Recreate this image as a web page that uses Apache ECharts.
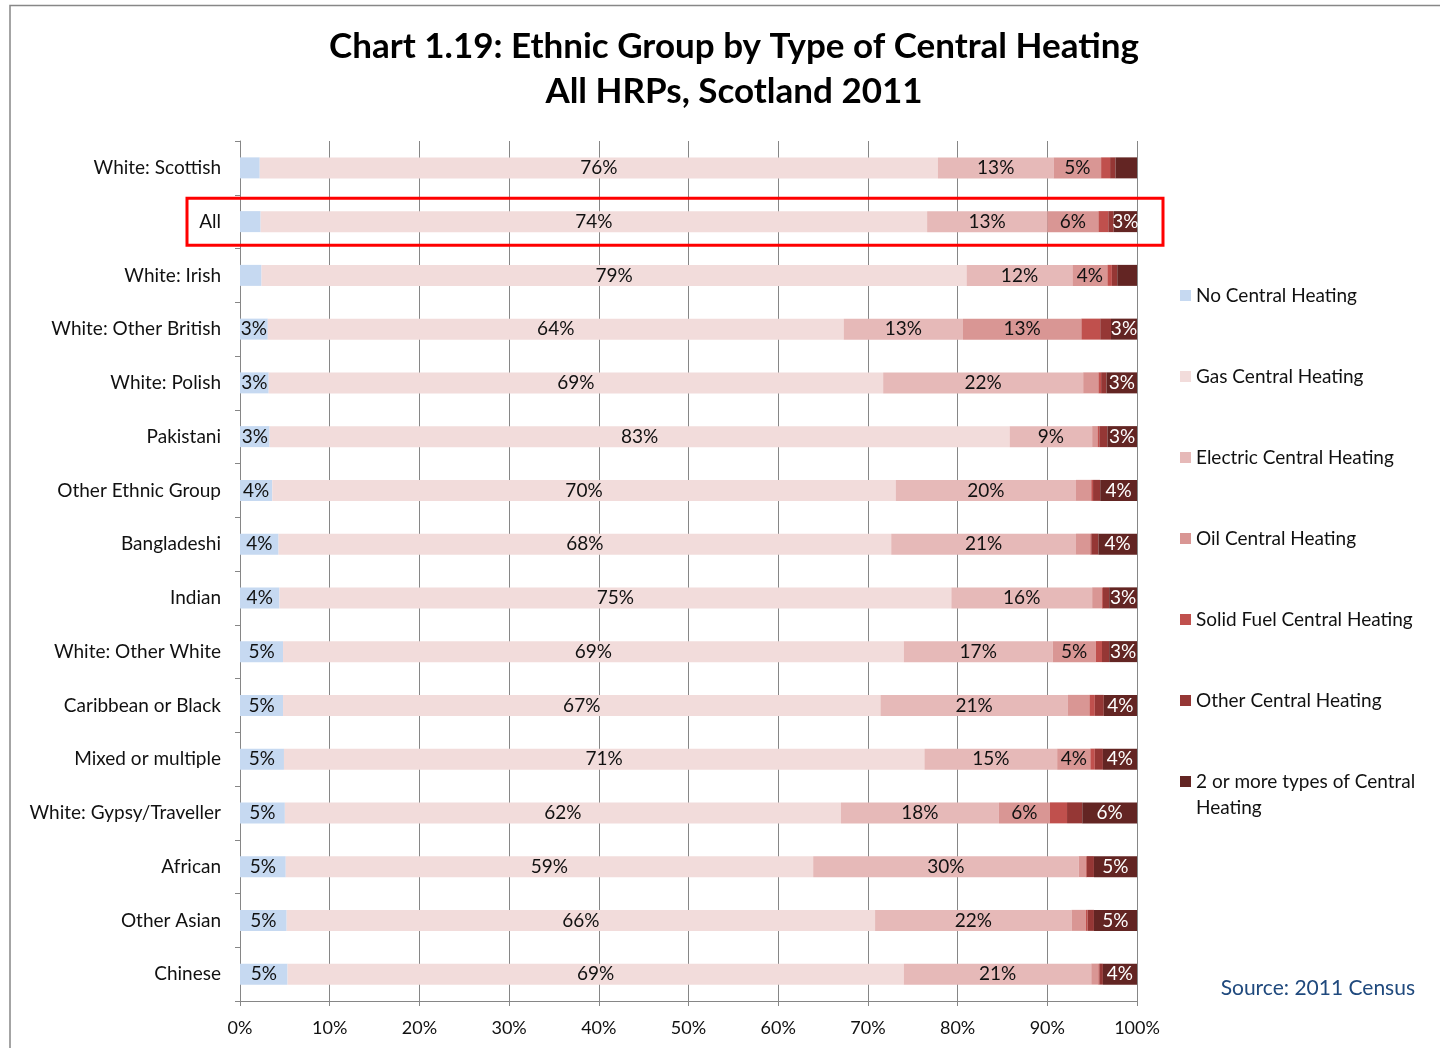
<!DOCTYPE html>
<html>
<head>
<meta charset="utf-8">
<script src="https://cdn.jsdelivr.net/npm/echarts@6/dist/echarts.min.js"></script>
<style>
  html, body { margin: 0; padding: 0; background: #fff; }
  #chart { width: 1440px; height: 1048px; }
</style>
</head>
<body>
<div id="chart"></div>
<script>
// categories, top to bottom
const groups = [
  'White: Scottish', 'All', 'White: Irish', 'White: Other British', 'White: Polish',
  'Pakistani', 'Other Ethnic Group', 'Bangladeshi', 'Indian', 'White: Other White',
  'Caribbean or Black', 'Mixed or multiple', 'White: Gypsy/Traveller', 'African',
  'Other Asian', 'Chinese'
]

const heatingTypes = [
  'No Central Heating', 'Gas Central Heating', 'Electric Central Heating',
  'Oil Central Heating', 'Solid Fuel Central Heating', 'Other Central Heating',
  '2 or more types of Central Heating'
]

// percent of HRPs, one array per heating type, same order as groups
const noHeating    = [2.2, 2.3, 2.4, 3.1, 3.2, 3.3, 3.6, 4.3, 4.4, 4.8, 4.8, 4.9, 5.0, 5.1, 5.2, 5.3]
const gasHeating   = [75.6, 74.3, 78.6, 64.2, 68.5, 82.5, 69.5, 68.3, 74.9, 69.2, 66.6, 71.4, 62.0, 58.8, 65.6, 68.7]
const electric     = [12.9, 13.4, 11.8, 13.3, 22.3, 9.2, 20.1, 20.6, 15.7, 16.6, 20.9, 14.8, 17.6, 29.6, 21.9, 20.9]
const oilHeating   = [5.3, 5.7, 3.9, 13.2, 1.7, 0.6, 1.7, 1.6, 1.1, 4.8, 2.4, 3.7, 5.7, 0.8, 1.6, 0.8]
const solidFuel    = [1.0, 1.1, 0.5, 2.1, 0.3, 0.2, 0.2, 0.1, 0.1, 0.7, 0.6, 0.5, 1.9, 0.1, 0.2, 0.1]
const otherHeating = [0.6, 0.6, 0.6, 1.2, 0.6, 0.9, 0.8, 0.8, 0.7, 0.8, 1.0, 0.9, 1.7, 0.8, 0.7, 0.4]
const twoOrMore    = [2.4, 2.6, 2.2, 2.9, 3.4, 3.3, 4.1, 4.3, 3.1, 3.1, 3.7, 3.8, 6.1, 4.8, 4.8, 3.8]

const seriesValues = [noHeating, gasHeating, electric, oilHeating, solidFuel, otherHeating, twoOrMore]
const colors = ['#c6d9f1', '#f2dcdb', '#e6b9b8', '#d99694', '#c0504d', '#953735', '#632523']

const xTicks = { min: 0, max: 100, interval: 10 }

const FONT = 'Lato, "Open Sans", sans-serif'

const chart = echarts.init(document.getElementById('chart'))

const series = heatingTypes.map((name, i) => ({
  name,
  type: 'bar',
  stack: 'total',
  barWidth: 21,
  itemStyle: { color: colors[i] },
  label: {
    show: true,
    position: 'inside',
    fontFamily: FONT,
    fontSize: 19,
    color: i === 6 ? '#fff' : '#111',
    formatter: p => (Math.round(p.value) >= 3 ? Math.round(p.value) + '%' : ''),
  },
  emphasis: { disabled: true },
  data: seriesValues[i],
}))

const option = {
  backgroundColor: '#fff',
  animation: false,
  textStyle: { fontFamily: FONT },
  title: {
    text: 'Chart 1.19: Ethnic Group by Type of Central Heating\nAll HRPs, Scotland 2011',
    left: 729,
    textAlign: 'center',
    top: 19,
    textStyle: { fontFamily: FONT, fontSize: 35, fontWeight: 'bold', color: '#000', lineHeight: 45 },
  },
  legend: {
    orient: 'vertical',
    left: 1175,
    top: 279,
    itemWidth: 11,
    itemHeight: 11,
    itemGap: 58,
    icon: 'rect',
    textStyle: { fontFamily: FONT, fontSize: 19, color: '#111', lineHeight: 23 },
    data: heatingTypes,
    // the last entry wraps; its second line is drawn below as graphic text
    formatter: name => (name.startsWith('2 or more') ? '2 or more types of Central' : name),
  },
  grid: { left: 240, right: 303, top: 141, bottom: 47 },
  xAxis: {
    type: 'value',
    min: xTicks.min,
    max: xTicks.max,
    interval: xTicks.interval,
    axisLine: { show: true, lineStyle: { color: '#868686' } },
    axisTick: { show: true, length: 5, lineStyle: { color: '#868686' } },
    axisLabel: { formatter: '{value}%', fontSize: 18, color: '#111', margin: 18, fontFamily: FONT },
    splitLine: { show: true, lineStyle: { color: '#868686' } },
  },
  yAxis: {
    type: 'category',
    inverse: true,
    data: groups,
    axisLine: { show: true, lineStyle: { color: '#868686' } },
    axisTick: { show: true, length: 5, lineStyle: { color: '#868686' } },
    axisLabel: { fontSize: 19, color: '#111', margin: 19, fontFamily: FONT },
    splitLine: { show: false },
  },
  series,
}

chart.setOption(option)

// frame, highlight box around "All", legend wrap line and the source note
const allY = chart.convertToPixel({ yAxisIndex: 0 }, 'All')
chart.setOption({
  graphic: [
    {
      type: 'polyline',
      shape: { points: [[10, 1048], [10, 5.5], [1440, 5.5]] },
      style: { stroke: '#878787', lineWidth: 1.5, fill: null },
      silent: true,
    },
    {
      type: 'rect',
      shape: { x: 187, y: allY - 23.5, width: 976, height: 47 },
      style: { stroke: '#ff0000', lineWidth: 3, fill: null },
      silent: true,
      z: 100,
    },
    {
      type: 'text',
      left: 1196,
      top: 798,
      style: { text: 'Heating', fontFamily: FONT, fontSize: 19, fill: '#111' },
      silent: true,
    },
    {
      type: 'text',
      right: 25,
      top: 978,
      style: { text: 'Source: 2011 Census', fontFamily: FONT, fontSize: 21, fill: '#1f497d' },
      silent: true,
    },
  ],
})
</script>
</body>
</html>
